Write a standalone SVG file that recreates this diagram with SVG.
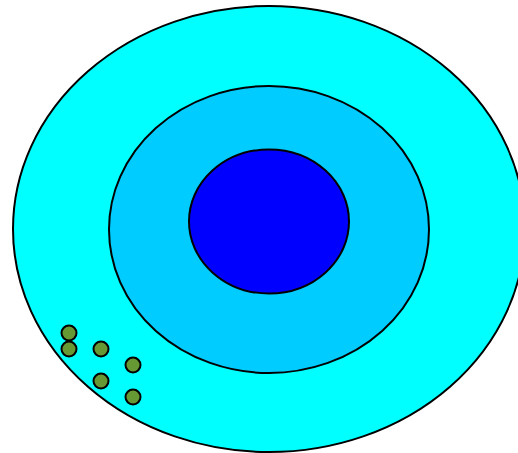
<svg xmlns="http://www.w3.org/2000/svg" width="518" height="453" viewBox="0 0 518 453">
<style>
.e{stroke:#000;stroke-width:2}
.dot{fill:#669933;stroke:#000;stroke-width:2}
</style>
<rect width="518" height="453" fill="#fff"/>
<g id="outer"><ellipse class="e" cx="269" cy="229" rx="256" ry="223" fill="#00ffff"/></g>
<g id="middle"><ellipse class="e" cx="269" cy="229.5" rx="160" ry="143.5" fill="#00ccff"/></g>
<g id="inner"><ellipse class="e" cx="269" cy="221.5" rx="80" ry="72" fill="#0000ff"/></g>
<g id="dots">
<circle class="dot" cx="69" cy="333" r="7.5"/>
<circle class="dot" cx="69" cy="349" r="7.5"/>
<circle class="dot" cx="101" cy="349" r="7.5"/>
<circle class="dot" cx="133" cy="365" r="7.5"/>
<circle class="dot" cx="101" cy="381" r="7.5"/>
<circle class="dot" cx="133" cy="397" r="7.5"/>
</g>
</svg>
